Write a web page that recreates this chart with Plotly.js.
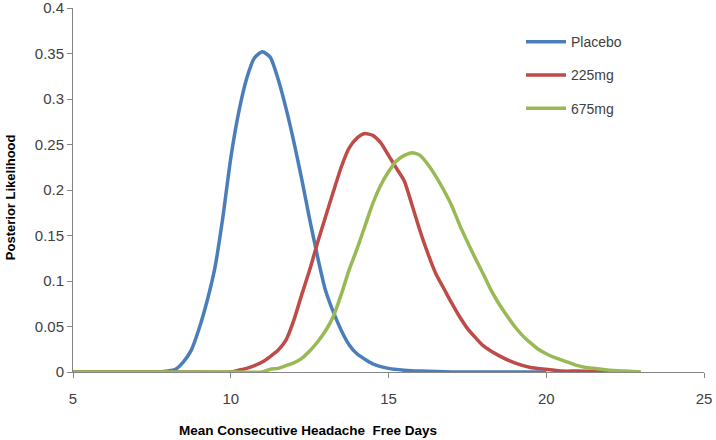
<!DOCTYPE html>
<html>
<head>
<meta charset="utf-8">
<script src="https://cdn.plot.ly/plotly-3.0.1.min.js"></script>
<style>html,body{margin:0;padding:0;background:#fff}#chart{width:716px;height:440px}</style>
</head>
<body>
<div id="chart"></div>
<script>
const seriesNames = ["Placebo", "225mg", "675mg"];

const placeboX = [5, 6, 7, 7.75, 8, 8.25, 8.5, 8.75, 9, 9.25, 9.5, 9.75, 10, 10.25, 10.5, 10.75, 11, 11.25, 11.5, 11.75, 12, 12.25, 12.5, 12.75, 13, 13.25, 13.5, 13.75, 14, 14.25, 14.5, 15, 15.5, 16, 17, 18, 19, 20];
const placeboY = [0, 0, 0, 0, 0.001, 0.003, 0.011, 0.024, 0.048, 0.078, 0.115, 0.17, 0.235, 0.285, 0.322, 0.345, 0.352, 0.346, 0.322, 0.29, 0.253, 0.212, 0.168, 0.127, 0.09, 0.066, 0.046, 0.03, 0.02, 0.014, 0.009, 0.004, 0.002, 0.001, 0, 0, 0, 0];

const mg225X = [5, 6, 7, 8, 9, 10, 10.25, 10.5, 10.75, 11, 11.25, 11.5, 11.75, 12, 12.25, 12.5, 12.75, 13, 13.25, 13.5, 13.75, 14, 14.25, 14.5, 14.75, 15, 15.25, 15.5, 15.75, 16, 16.25, 16.5, 16.75, 17, 17.25, 17.5, 17.75, 18, 18.5, 19, 19.5, 20, 20.5, 21, 22];
const mg225Y = [0, 0, 0, 0, 0, 0, 0.002, 0.004, 0.007, 0.011, 0.017, 0.024, 0.035, 0.057, 0.085, 0.112, 0.142, 0.17, 0.198, 0.225, 0.246, 0.257, 0.262, 0.26, 0.252, 0.238, 0.224, 0.21, 0.183, 0.155, 0.13, 0.108, 0.092, 0.076, 0.061, 0.048, 0.038, 0.029, 0.018, 0.01, 0.005, 0.003, 0.001, 0.001, 0];

const mg675X = [5, 6, 7, 8, 9, 10, 11, 11.25, 11.5, 11.75, 12, 12.25, 12.5, 12.75, 13, 13.25, 13.5, 13.75, 14, 14.25, 14.5, 14.75, 15, 15.25, 15.5, 15.75, 16, 16.25, 16.5, 16.75, 17, 17.25, 17.5, 17.75, 18, 18.25, 18.5, 18.75, 19, 19.25, 19.5, 19.75, 20, 20.25, 20.5, 20.75, 21, 21.25, 21.5, 22, 22.5, 23];
const mg675Y = [0, 0, 0, 0, 0, 0, 0, 0.003, 0.004, 0.007, 0.01, 0.015, 0.023, 0.033, 0.045, 0.061, 0.085, 0.112, 0.135, 0.16, 0.185, 0.205, 0.22, 0.232, 0.238, 0.241, 0.238, 0.228, 0.215, 0.2, 0.183, 0.162, 0.143, 0.125, 0.108, 0.09, 0.075, 0.062, 0.05, 0.04, 0.032, 0.025, 0.02, 0.016, 0.013, 0.01, 0.007, 0.005, 0.004, 0.002, 0.001, 0];

const xTicks = [5, 10, 15, 20, 25];
const yTicks = [0, 0.05, 0.1, 0.15, 0.2, 0.25, 0.3, 0.35, 0.4];
const yTickText = ["0", "0.05", "0.1", "0.15", "0.2", "0.25", "0.3", "0.35", "0.4"];

const colors = ["#4a7ebb", "#be4b48", "#98b954"];
const xs = [placeboX, mg225X, mg675X];
const ys = [placeboY, mg225Y, mg675Y];

const traces = seriesNames.map((n, i) => ({
  type: "scatter", mode: "lines", name: n, x: xs[i], y: ys[i],
  line: {color: colors[i], width: 3.5, shape: "spline", smoothing: 0.6},
  legendgroup: "g" + i, cliponaxis: false
}));

const font = "'Liberation Sans', Arial, sans-serif";
const layout = {
  width: 716, height: 440,
  margin: {l: 73, r: 12, t: 8, b: 68},
  paper_bgcolor: "#ffffff", plot_bgcolor: "#ffffff",
  font: {family: font, size: 13, color: "#404040"},
  showlegend: true,
  legend: {x: 0.71, y: 0.95, xanchor: "left", yanchor: "top", bgcolor: "rgba(0,0,0,0)",
           font: {family: font, size: 14, color: "#404040"}, tracegroupgap: 12, itemwidth: 40},
  xaxis: {range: [5, 25], tickvals: xTicks, ticktext: xTicks.map(String), showgrid: false, zeroline: false,
          showline: true, linecolor: "#868686", linewidth: 1, ticks: "outside", ticklen: 5, tickcolor: "#868686",
          ticklabelstandoff: 8, ticklabeloverflow: "allow", tickfont: {size: 15, color: "#404040"}},
  yaxis: {range: [0, 0.4], tickvals: yTicks, ticktext: yTickText, showgrid: false, zeroline: false,
          showline: true, linecolor: "#868686", linewidth: 1, ticks: "outside", ticklen: 5, tickcolor: "#868686",
          ticklabeloverflow: "allow", tickfont: {size: 15, color: "#404040"}},
  annotations: [
    {text: "<b>Mean Consecutive Headache  Free Days</b>", xref: "paper", yref: "paper", x: 0.372, y: -0.162,
     xanchor: "center", yanchor: "middle", showarrow: false, font: {size: 13.5, color: "#000000"}},
    {text: "<b>Posterior Likelihood</b>", xref: "paper", yref: "paper", x: -0.1, y: 0.48, textangle: -90,
     xanchor: "center", yanchor: "middle", showarrow: false, font: {size: 13, color: "#000000"}}
  ]
};

Plotly.newPlot("chart", traces, layout, {staticPlot: true, displayModeBar: false});
</script>
</body>
</html>
